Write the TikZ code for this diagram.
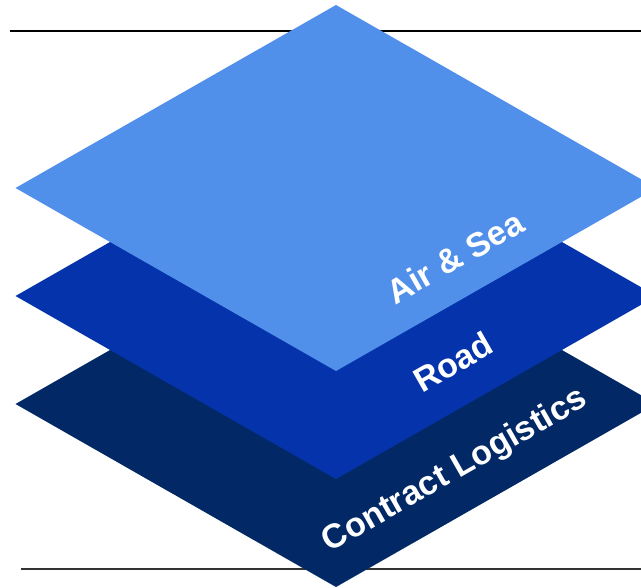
\documentclass[tikz,border=0pt]{standalone}
\usepackage{fontspec}
\setmainfont{Liberation Sans}
\definecolor{airsea}{HTML}{5190EA}
\definecolor{road}{HTML}{0533AB}
\definecolor{contract}{HTML}{022865}
\begin{document}
\begin{tikzpicture}[x=1pt,y=-1pt,
  layertext/.style={text=white, inner sep=0pt, anchor=center,
    font=\bfseries\fontsize{34}{34}\selectfont, rotate=29.72},
  rule/.style={line width=1.2pt}]
\useasboundingbox (0,0) rectangle (641,588);
\clip (0,0) rectangle (641,588);
% horizontal rules behind the stack
\coordinate (topL) at (10,31);    \coordinate (topR) at (641,31);
\coordinate (botL) at (21,569);   \coordinate (botR) at (641,569);
\draw[rule, black] (topL) -- (topR);
\draw[rule, black!80] (botL) -- (botR);
% stacked layers, bottom first
\foreach \name/\yc/\col in {contract/404/contract, road/296/road, airsea/188/airsea}{
  \coordinate (\name N) at (336,\yc-183);
  \coordinate (\name E) at (656.5,\yc);
  \coordinate (\name S) at (336,\yc+183);
  \coordinate (\name W) at (15.5,\yc);
  \fill[\col] (\name N) -- (\name E) -- (\name S) -- (\name W) -- cycle;
}
% layer labels
\node[layertext] (lblair) at (455,257) {Air \& Sea};
\node[layertext] (lblroad) at (453,362) {Road};
\node[layertext] (lblcontract) at (455,471) {Contract Logistics};
\end{tikzpicture}
\end{document}
